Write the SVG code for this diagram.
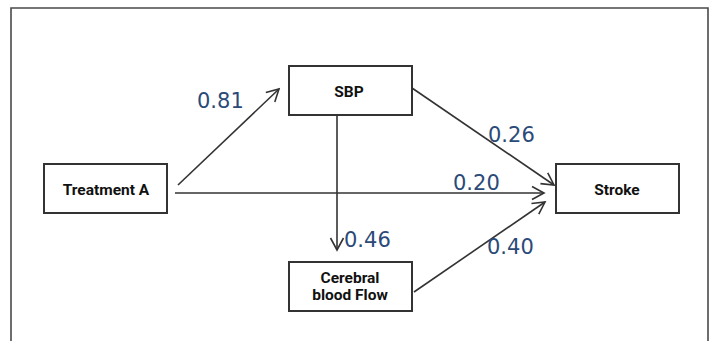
<svg xmlns="http://www.w3.org/2000/svg" width="709" height="341" viewBox="0 0 709 341">
  <style>
    .frame { fill: none; stroke: #4a4a4a; stroke-width: 1.6; }
    .box { fill: #ffffff; stroke: #333333; stroke-width: 2; }
    .node-label { font-family: Roboto, "Liberation Sans", sans-serif; font-weight: bold; font-size: 15.5px; fill: #111111; text-anchor: middle; }
    .edge { fill: none; stroke: #333333; stroke-width: 1.6; }
    .coef { font-family: "DejaVu Sans", "Liberation Sans", sans-serif; font-size: 21px; fill: #2b4a78; }
  </style>
  <defs>
    <marker id="arrow" markerUnits="userSpaceOnUse" viewBox="-14 -8 16 16" refX="0" refY="0" markerWidth="16" markerHeight="16" orient="auto">
      <path d="M-12,-6.5 L0,0 L-12,6.5" fill="none" stroke="#333333" stroke-width="1.6" stroke-linejoin="miter"/>
    </marker>
  </defs>

  <rect width="709" height="341" fill="#ffffff"/>
  <!-- outer frame (open at the bottom) -->
  <path class="frame" d="M11,341 L11,8 L708,8 L708,341"/>

  <g id="connectors">
    <line class="edge" x1="178" y1="185" x2="279" y2="89" marker-end="url(#arrow)"/>
    <line class="edge" x1="175" y1="193" x2="544" y2="193" marker-end="url(#arrow)"/>
    <line class="edge" x1="412" y1="88" x2="554" y2="185" marker-end="url(#arrow)"/>
    <line class="edge" x1="337" y1="115" x2="337" y2="250" marker-end="url(#arrow)"/>
    <line class="edge" x1="414" y1="292" x2="545" y2="202" marker-end="url(#arrow)"/>
  </g>

  <g id="coefficients">
    <text class="coef" x="197" y="108">0.81</text>
    <text class="coef" x="488" y="142">0.26</text>
    <text class="coef" x="453" y="190">0.20</text>
    <text class="coef" x="344" y="247">0.46</text>
    <text class="coef" x="487" y="254">0.40</text>
  </g>

  <g id="treatment-a">
    <rect class="box" x="44" y="164" width="123" height="49"/>
    <text class="node-label" x="106" y="195">Treatment A</text>
  </g>

  <g id="sbp">
    <rect class="box" x="289" y="66" width="123" height="49"/>
    <text class="node-label" x="349" y="97">SBP</text>
  </g>

  <g id="cerebral-blood-flow">
    <rect class="box" x="289" y="262" width="123" height="49"/>
    <text class="node-label" x="350" y="283">Cerebral</text>
    <text class="node-label" x="350" y="300">blood Flow</text>
  </g>

  <g id="stroke">
    <rect class="box" x="556" y="164" width="123" height="49"/>
    <text class="node-label" x="617" y="195">Stroke</text>
  </g>
</svg>
